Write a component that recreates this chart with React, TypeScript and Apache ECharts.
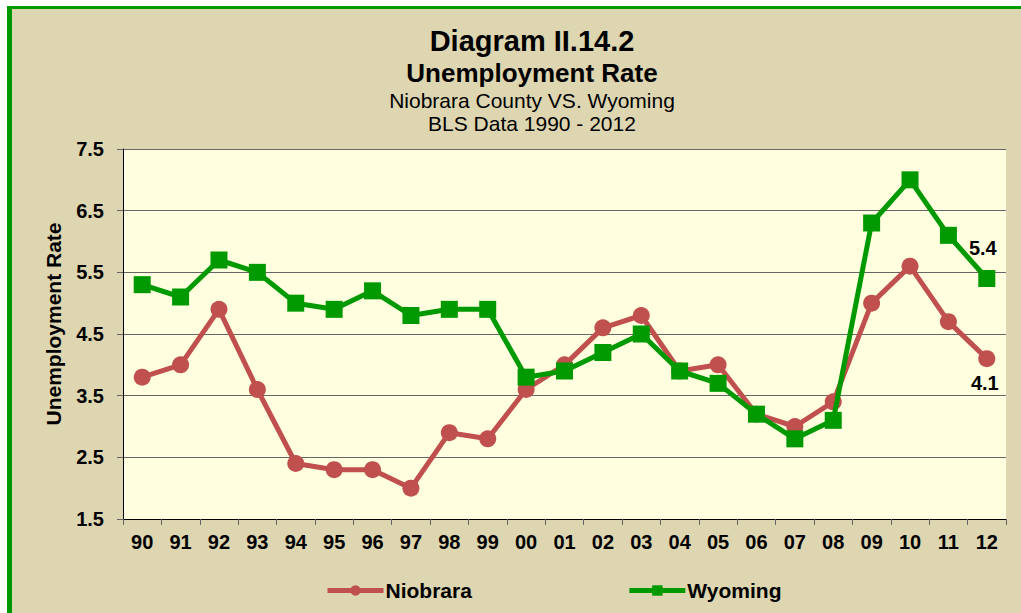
import React, { useEffect, useRef } from "react";
import * as echarts from "echarts";

const years = ["90","91","92","93","94","95","96","97","98","99","00","01","02","03","04","05","06","07","08","09","10","11","12"];
const niobrara = [3.8,4.0,4.9,3.6,2.4,2.3,2.3,2.0,2.9,2.8,3.6,4.0,4.6,4.8,3.9,4.0,3.2,3.0,3.4,5.0,5.6,4.7,4.1];
const wyoming = [5.3,5.1,5.7,5.5,5.0,4.9,5.2,4.8,4.9,4.9,3.8,3.9,4.2,4.5,3.9,3.7,3.2,2.8,3.1,6.3,7.0,6.1,5.4];
const titleLines = ["Diagram II.14.2", "Unemployment Rate", "Niobrara County VS. Wyoming", "BLS Data 1990 - 2012"];
const yAxisName = "Unemployment Rate";

const FONT = "'Liberation Sans', Arial, sans-serif";
const RED = "#C0504D";
const GREEN = "#009900";

function lastLabeled(values: number[], pos: string, dist: number, dx: number) {
  return values.map((v, i) =>
    i === values.length - 1
      ? { value: v, label: { show: true, position: pos, distance: dist, offset: [dx, 0], formatter: "{c}", fontFamily: FONT, fontWeight: "bold", fontSize: 20, color: "#000" } }
      : v
  );
}

export default function App() {
  const ref = useRef<HTMLDivElement>(null);
  useEffect(() => {
    if (!ref.current) return;
    const chart = echarts.init(ref.current, undefined, { renderer: "svg" });
    const cx = 532;
    chart.setOption({
      animation: false,
      backgroundColor: "transparent",
      graphic: [
        { type: "text", x: cx, y: 41, style: { text: titleLines[0], font: `bold 29px ${FONT}`, fill: "#000", align: "center", verticalAlign: "middle" } },
        { type: "text", x: cx, y: 73, style: { text: titleLines[1], font: `bold 26px ${FONT}`, fill: "#000", align: "center", verticalAlign: "middle" } },
        { type: "text", x: cx, y: 100, style: { text: titleLines[2], font: `21px ${FONT}`, fill: "#000", align: "center", verticalAlign: "middle" } },
        { type: "text", x: cx, y: 123, style: { text: titleLines[3], font: `21px ${FONT}`, fill: "#000", align: "center", verticalAlign: "middle" } },
        { type: "text", x: 53, y: 324, rotation: Math.PI / 2, style: { text: yAxisName, font: `bold 21px ${FONT}`, fill: "#000", align: "center", verticalAlign: "middle" } },
      ],
      grid: {
        left: 123,
        top: 149,
        right: 15,
        bottom: 94,
        show: true,
        backgroundColor: "#FFFFE0",
        borderWidth: 0,
      },
      legend: {
        left: 320,
        top: 575,
        itemWidth: 56,
        itemHeight: 13,
        itemGap: 155,
        lineStyle: { width: 5 },
        textStyle: { fontFamily: FONT, fontWeight: "bold", fontSize: 21, color: "#000", padding: [0, 0, 0, -3] },
        data: ["Niobrara", "Wyoming"],
      },
      xAxis: {
        type: "category",
        data: years,
        boundaryGap: true,
        axisLine: { lineStyle: { color: "#000", width: 1 } },
        axisTick: { show: true, length: 6, lineStyle: { color: "#666" } },
        axisLabel: { fontFamily: FONT, fontWeight: "bold", fontSize: 20, color: "#000", margin: 13 },
        splitLine: { show: false },
      },
      yAxis: {
        type: "value",
        min: 1.5,
        max: 7.5,
        interval: 1,
        axisLine: { show: true, lineStyle: { color: "#000", width: 1 } },
        axisTick: { show: true, length: 6, lineStyle: { color: "#666" } },
        axisLabel: { fontFamily: FONT, fontWeight: "bold", fontSize: 20, color: "#000", margin: 19, formatter: (v: number) => v.toFixed(1) },
        splitLine: { show: true, lineStyle: { color: "#666", width: 1 } },
      },
      series: [
        {
          name: "Niobrara",
          type: "line",
          data: lastLabeled(niobrara, "bottom", 6, -2),
          symbol: "circle",
          symbolSize: 17,
          itemStyle: { color: RED },
          lineStyle: { color: RED, width: 5 },
          z: 2,
        },
        {
          name: "Wyoming",
          type: "line",
          data: lastLabeled(wyoming, "top", 12, -4),
          symbol: "rect",
          symbolSize: 17,
          itemStyle: { color: GREEN },
          lineStyle: { color: GREEN, width: 5 },
          z: 3,
        },
      ],
    });
    return () => chart.dispose();
  }, []);

  return (
    <div style={{ position: "absolute", left: 0, top: 0, width: 1021, height: 613, background: "#fff", overflow: "hidden" }}>
      <div style={{ position: "absolute", left: 7, top: 6, right: 0, bottom: 0, borderLeft: `5px solid ${GREEN}`, borderTop: `3px solid ${GREEN}`, background: "#DDD6B0" }} />
      <div ref={ref} style={{ position: "absolute", left: 0, top: 0, width: 1021, height: 613 }} />
    </div>
  );
}
